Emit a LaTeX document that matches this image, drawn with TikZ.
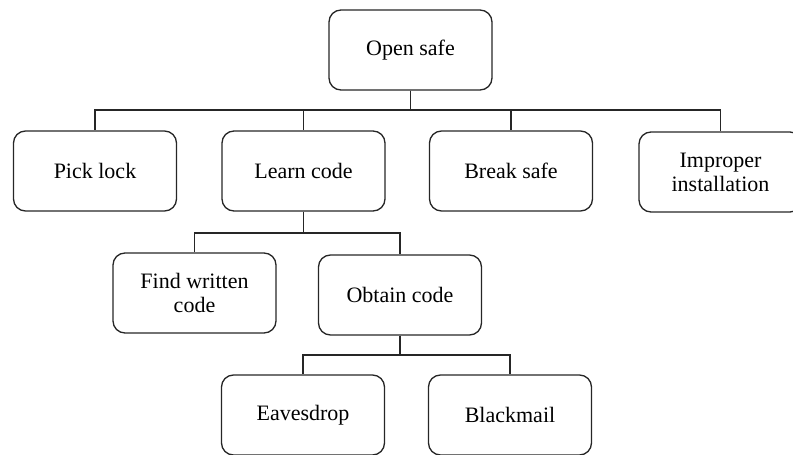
\documentclass[tikz,border=0pt]{standalone}
\usepackage{fontspec}
\setmainfont{Liberation Serif}
\begin{document}
\begin{tikzpicture}[x=1pt,y=-1pt,
  treebox/.style={draw=black!85, line width=1.3pt, rounded corners=12pt,
    minimum width=163pt, minimum height=80pt, align=center,
    font=\fontsize{22}{24}\selectfont, inner sep=2pt},
  link/.style={draw=black!85, line width=1.3pt}]
\useasboundingbox (0,0) rectangle (793,455);

% root
\node[treebox] (open) at (410.5,50) {Open safe};

% first level
\node[treebox] (pick)     at (95,171)    {Pick lock};
\node[treebox] (learn)    at (303.5,171) {Learn code};
\node[treebox] (break)    at (511,171)   {Break safe};
\node[treebox] (improper) at (720.5,172) {Improper\\installation};

% second level under "Learn code"
\node[treebox] (find)   at (194.5,293) {Find written\\code};
\node[treebox] (obtain) at (400,295)   {Obtain code};

% third level under "Obtain code"
\node[treebox] (eaves) at (303,415) {Eavesdrop};
\node[treebox] (black) at (510,415) {Blackmail};

% bus heights
\coordinate (busA) at (0,110);
\coordinate (busB) at (0,233);
\coordinate (busC) at (0,355);

% connectors
\foreach \c in {pick,learn,break,improper}
  \draw[link] (open.south) -- (open.south |- busA) -| (\c.north);
\foreach \c in {find,obtain}
  \draw[link] (learn.south) -- (learn.south |- busB) -| (\c.north);
\foreach \c in {eaves,black}
  \draw[link] (obtain.south) -- (obtain.south |- busC) -| (\c.north);
\end{tikzpicture}
\end{document}
